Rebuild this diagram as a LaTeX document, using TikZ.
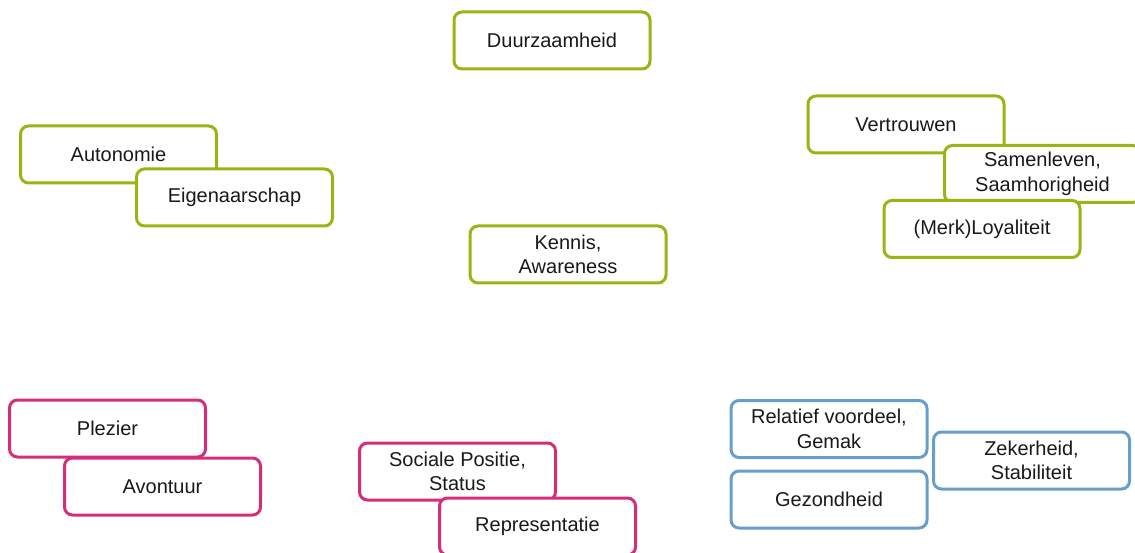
\documentclass[tikz,border=0pt]{standalone}
\usepackage{fontspec}
\setmainfont{Liberation Sans}
\definecolor{boxgreen}{RGB}{155,180,20}
\definecolor{boxpink}{RGB}{214,45,122}
\definecolor{boxblue}{RGB}{104,158,204}
\tikzset{
  valuebox/.style={draw, fill=white, line width=3pt, rounded corners=8pt,
    minimum width=196pt, minimum height=57pt, inner sep=0pt, align=center,
    font=\fontsize{20pt}{24.5pt}\selectfont, text=black!90},
  twoline/.style={yshift=-1.5pt},
  greenbox/.style={valuebox, draw=boxgreen},
  pinkbox/.style={valuebox, draw=boxpink},
  bluebox/.style={valuebox, draw=boxblue},
}
\begin{document}
\begin{tikzpicture}[x=1pt,y=-1pt]
  \useasboundingbox (0,0) rectangle (1135,553);
  % green cluster
  \node[greenbox] (duurzaam) at (552,40.5) {Duurzaamheid};
  \node[greenbox] (autonomie) at (118.5,154.5) {Autonomie};
  \node[greenbox] (eigenaar) at (234.5,197.5) {Eigenaarschap};
  \node[greenbox, twoline] (kennis) at (568,253) {Kennis,\\Awareness};
  \node[greenbox] (vertrouwen) at (906,124.5) {Vertrouwen};
  \node[greenbox, twoline] (samenleven) at (1042.5,172.5) {Samenleven,\\Saamhorigheid};
  \node[greenbox] (loyaliteit) at (982,229) {(Merk)Loyaliteit};
  % pink cluster
  \node[pinkbox] (plezier) at (107.5,428.5) {Plezier};
  \node[pinkbox] (avontuur) at (162.5,486.5) {Avontuur};
  \node[pinkbox, twoline] (sociaal) at (457.5,470) {Sociale Positie,\\Status};
  \node[pinkbox] (representatie) at (537.5,526.5) {Representatie};
  % blue cluster
  \node[bluebox, twoline] (relatief) at (829,427.5) {Relatief voordeel,\\Gemak};
  \node[bluebox, twoline] (zekerheid) at (1031.5,459) {Zekerheid,\\Stabiliteit};
  \node[bluebox] (gezondheid) at (829,499.5) {Gezondheid};
\end{tikzpicture}
\end{document}
